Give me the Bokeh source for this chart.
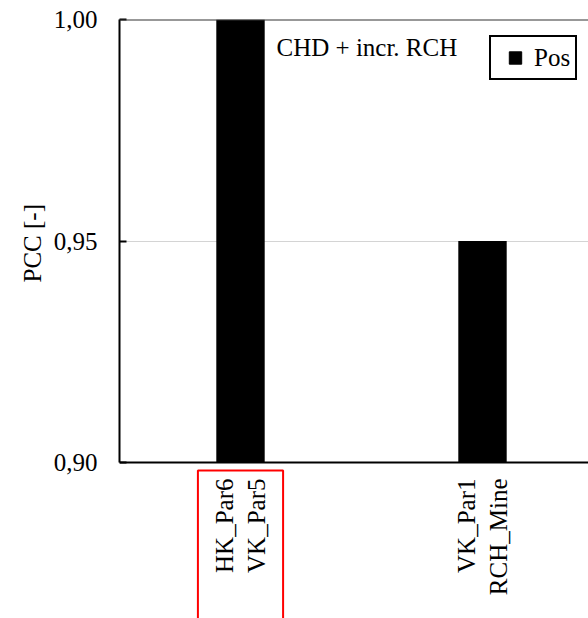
import math
from bokeh.plotting import figure
from bokeh.models import (Range1d, FixedTicker, CustomJSTickFormatter, Label, Legend,
                          LegendItem, Span, ColumnDataSource, Title)
from bokeh.core.properties import value
from bokeh.embed import file_html
from bokeh.resources import INLINE

# ---- data ----
categories = ["HK_Par6\nVK_Par5", "VK_Par1\nRCH_Mine"]
pcc_values = [1.00, 0.95]
series_name = "Pos"
scenario_label = "CHD + incr. RCH"
y_label = "PCC [-]"
y_ticks = [0.90, 0.95, 1.00]
highlighted = [0]

FONT = "Liberation Serif"
FS = "25px"

# ---- layout geometry (pixels) ----
W, H = 588, 618
TOP, LEFT = 19, 119          # frame top / left
AXIS_Y = 462                 # pixel row of the category axis (value 0.90)
px_per_unit = (AXIS_Y - TOP) / (y_ticks[-1] - y_ticks[0])
y_start = y_ticks[0] - (H - AXIS_Y) / px_per_unit
px = lambda n: n / px_per_unit   # pixel distance -> data distance

x_pos = [i + 0.5 for i in range(len(categories))]
src = ColumnDataSource(dict(x=x_pos, top=pcc_values, label=categories))

p = figure(width=W, height=H, output_backend="svg", toolbar_location=None,
           x_range=Range1d(0, (W - LEFT) / 242), y_range=Range1d(y_start, y_ticks[-1]),
           min_border_left=LEFT, min_border_right=0, min_border_top=TOP,
           min_border_bottom=0)
p.outline_line_color = None
p.background_fill_color = "white"
p.border_fill_color = "white"
p.xaxis.visible = False
p.xgrid.visible = False

# y axis, limited to the value range
p.yaxis.bounds = (y_ticks[0], y_ticks[-1])
p.yaxis.ticker = FixedTicker(ticks=y_ticks)
p.yaxis.formatter = CustomJSTickFormatter(code="return tick.toFixed(2).replace('.', ',')")
p.yaxis.major_tick_in = 7
p.yaxis.major_tick_out = 0
p.yaxis.major_tick_line_width = 2
p.yaxis.minor_tick_line_color = None
p.yaxis.axis_line_width = 2
p.yaxis.axis_line_color = "black"
p.yaxis.major_label_standoff = 22
p.yaxis.major_label_text_font = FONT
p.yaxis.major_label_text_font_size = FS
p.yaxis.major_label_text_color = "black"

# axis title placed beside the bounded part of the axis
p.add_layout(Title(text=y_label, align="left", offset=H - 282, standoff=10,
                   text_font=FONT, text_font_size=FS, text_font_style="normal",
                   text_color="black"), "left")

p.ygrid.ticker = FixedTicker(ticks=y_ticks[1:-1])
p.ygrid.grid_line_color = "#d4d4d4"
p.ygrid.grid_line_width = 1

bars = p.vbar(x="x", top="top", bottom=y_ticks[0], width=0.2, source=src,
              fill_color="black", line_color=None)

# frame lines: top border and category axis
p.add_layout(Span(location=y_ticks[-1], dimension="width",
                  line_color="#333333", line_width=2))
p.add_layout(Span(location=y_ticks[0], dimension="width",
                  line_color="black", line_width=2))

# category labels
p.text(x="x", y=y_ticks[0] - px(16), text="label", source=src, angle=math.pi / 2,
       text_font=value(FONT), text_font_size=value(FS), text_color="black",
       text_align="right", text_baseline="middle", text_line_height=1.2)

# red highlight box around a category label
hx = [x_pos[i] for i in highlighted]
p.quad(left=[x - 0.176 for x in hx], right=[x + 0.176 for x in hx],
       top=y_ticks[0] - px(8), bottom=y_start - px(20),
       fill_color=None, line_color="red", line_width=2)

# scenario text
p.add_layout(Label(x=(276 - LEFT) / 242, y=y_ticks[-1] - px(28), text=scenario_label,
                   text_font=FONT, text_font_size=FS, text_color="black",
                   text_baseline="middle"))

# legend
sq = p.scatter(x="x", y="top", source=src, marker="square", size=15,
               fill_color="black", line_color="black", visible=False)
legend = Legend(items=[LegendItem(label=series_name, renderers=[sq])],
                location=(370, H - TOP - 61), padding=5, spacing=0, margin=0,
                glyph_width=38, glyph_height=31, label_height=31, label_standoff=0,
                label_text_font=FONT, label_text_font_size=FS, label_text_color="black",
                border_line_color="black", border_line_width=2, border_line_alpha=1.0,
                background_fill_color="white", background_fill_alpha=1.0)
p.add_layout(legend)

open("out.html", "w").write(file_html(p, INLINE))
